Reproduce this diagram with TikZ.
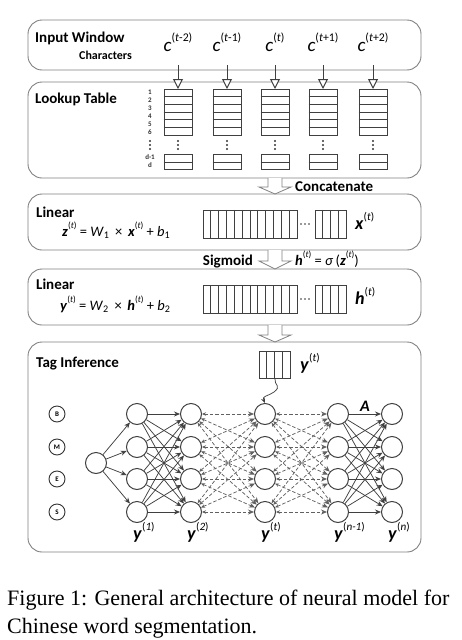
\documentclass[tikz,border=0pt]{standalone}
\usepackage{fontspec}
\setmainfont{Carlito}
\newfontfamily\capfont{Liberation Serif}
\usetikzlibrary{arrows.meta,calc}
\newcommand{\up}[1]{\raisebox{0.5em}{\scalebox{0.62}{#1}}}
\newcommand{\bvy}[2]{\textbf{\textit{#1}}\up{(\textit{#2})}}
\tikzset{
 panel/.style={draw=black!50, line width=0.9pt, rounded corners=14pt},
 title/.style={font=\fontsize{15}{15}\selectfont\bfseries, anchor=base west, inner sep=0pt},
 txt/.style={anchor=base west, inner sep=0pt},
 cell/.style={draw=black!75, line width=1pt, inner sep=0pt},
 cellline/.style={draw=black!75, line width=0.8pt},
 tag/.style={circle, draw=black!75, line width=1pt, minimum size=21pt, inner sep=0pt},
 bmes/.style={circle, draw=black!80, line width=0.9pt, minimum size=16pt, inner sep=0pt, font=\fontsize{7}{7}\selectfont\bfseries},
 edge/.style={draw=black!75, line width=0.75pt, -{Stealth[length=6pt,width=5pt]}},
 dedge/.style={draw=black!62, line width=0.75pt, dash pattern=on 3.5pt off 2pt, {Stealth[length=4pt,width=3.5pt]}-{Stealth[length=6pt,width=5pt]}},
 blockarrow/.style={draw=black!50, fill=white, line width=0.8pt},
 inarrow/.style={draw=black!75, line width=1pt, -{Triangle[length=10pt,width=10pt,fill=white]}},
 dot/.style={circle, fill=black!80, inner sep=0pt, minimum size=2.4pt},
}
\begin{document}
\begin{tikzpicture}[x=1pt,y=-1pt]
\useasboundingbox (0,0) rectangle (462,640);

% panels
\draw[panel] (28,20) rectangle (421,70);
\draw[panel] (28,82) rectangle (421,178);
\draw[panel] (28,194) rectangle (421,250);
\draw[panel] (28,269) rectangle (421,325);
\draw[panel] (28,342) rectangle (421,552);

% block arrows
\draw[blockarrow] (268,178) -- (268,187) -- (259,187) -- (275,194) -- (291,187) -- (282,187) -- (282,178);
\draw[blockarrow] (268,250) -- (268,261) -- (259,261) -- (275,269) -- (291,261) -- (282,261) -- (282,250);
\draw[blockarrow] (268,325) -- (268,335) -- (259,335) -- (275,342) -- (291,335) -- (282,335) -- (282,325);

% box 1
\node[title] (t1) at (35,42) {Input Window};
\node[txt, font=\fontsize{12}{12}\selectfont\bfseries] (chars) at (79,59) {Characters};
\foreach \xx/\lab [count=\k] in {178/{\textit{t}-2}, 227/{\textit{t}-1}, 275/{\textit{t}}, 323/{\textit{t}+1}, 373/{\textit{t}+2}}{
  \node[anchor=base, inner sep=0pt, font=\fontsize{19}{19}\selectfont] (c\k) at (\xx,51) {\textit{c}\up{(\lab)}};
  \coordinate (a\k) at (\xx,65);
  \node[cell, minimum width=28pt, minimum height=46pt, anchor=north] (tab\k) at (\xx,89) {};
  \node[cell, minimum width=28pt, minimum height=15pt, anchor=north] (tb\k) at (\xx,154) {};
  \foreach \i in {1,...,5} \draw[cellline] ($(tab\k.north west)+(0,\i*7.667)$) -- ($(tab\k.north east)+(0,\i*7.667)$);
  \draw[cellline] ($(tb\k.west)$) -- ($(tb\k.east)$);
  \node[dot] at (\xx,141) {}; \node[dot] at (\xx,145) {}; \node[dot] at (\xx,149) {};
}
\foreach \k in {1,...,5} \draw[inarrow] (a\k) -- (tab\k.north);

% box 2
\node[title] (t2) at (35,103) {Lookup Table};
\foreach \n in {1,...,6}
  \node[anchor=center, inner sep=0pt, font=\fontsize{7}{7}\selectfont\bfseries, text=black!80] (r\n) at (150,{92.7+(\n-1)*7.9}) {\n};
\node[dot] at (150,141) {}; \node[dot] at (150,145) {}; \node[dot] at (150,149) {};
\node[anchor=center, inner sep=0pt, font=\fontsize{7}{7}\selectfont\bfseries, text=black!80] (rd1) at (150,157.5) {d-1};
\node[anchor=center, inner sep=0pt, font=\fontsize{7}{7}\selectfont\bfseries, text=black!80] (rd) at (150,165.5) {d};
\node[title] (conc) at (295,191) {Concatenate};

% box 3
\node[title] (t3) at (36,217) {Linear};
\node[txt, font=\fontsize{14.5}{14.5}\selectfont] (f1) at (62,236) {\bvy{z}{t} = \textit{W}\textsubscript{1}\, ×\, \bvy{x}{t} + \textit{b}\textsubscript{1}};
\node[cell, minimum width=94pt, minimum height=28pt, anchor=north west] (xv1) at (203,210) {};
\foreach \i in {1,...,11} \draw[cellline] ($(xv1.north west)+(\i*7.833,0)$) -- ($(xv1.south west)+(\i*7.833,0)$);
\node[cell, minimum width=31pt, minimum height=28pt, anchor=north west] (xv2) at (315,210) {};
\foreach \i in {1,...,3} \draw[cellline] ($(xv2.north west)+(\i*7.75,0)$) -- ($(xv2.south west)+(\i*7.75,0)$);
\node[dot, minimum size=1.9pt] at (301,224) {}; \node[dot, minimum size=1.9pt] at (305,224) {}; \node[dot, minimum size=1.9pt] at (309,224) {};
\node[txt, font=\fontsize{18}{18}\selectfont] (xl) at (355,229) {\bvy{x}{t}};

% sigmoid
\node[anchor=base east, inner sep=0pt, font=\fontsize{15}{15}\selectfont\bfseries] (sig) at (253,265) {Sigmoid};
\node[txt, font=\fontsize{14.5}{14.5}\selectfont] (hs) at (295,265) {\bvy{h}{t} = \textit{σ}\,(\bvy{z}{t})};

% box 4
\node[title] (t4) at (36,289) {Linear};
\node[txt, font=\fontsize{14.5}{14.5}\selectfont] (f2) at (60,310) {\bvy{y}{t} = \textit{W}\textsubscript{2}\, ×\, \bvy{h}{t} + \textit{b}\textsubscript{2}};
\node[cell, minimum width=94pt, minimum height=28pt, anchor=north west] (hv1) at (203,285) {};
\foreach \i in {1,...,11} \draw[cellline] ($(hv1.north west)+(\i*7.833,0)$) -- ($(hv1.south west)+(\i*7.833,0)$);
\node[cell, minimum width=31pt, minimum height=28pt, anchor=north west] (hv2) at (315,285) {};
\foreach \i in {1,...,3} \draw[cellline] ($(hv2.north west)+(\i*7.75,0)$) -- ($(hv2.south west)+(\i*7.75,0)$);
\node[dot, minimum size=1.9pt] at (301,299) {}; \node[dot, minimum size=1.9pt] at (305,299) {}; \node[dot, minimum size=1.9pt] at (309,299) {};
\node[txt, font=\fontsize{18}{18}\selectfont] (hl) at (355,304) {\bvy{h}{t}};

% box 5
\node[title] (t5) at (36,367) {Tag Inference};
\node[cell, minimum width=31pt, minimum height=27pt, anchor=north west] (yvec) at (259,351) {};
\foreach \i in {1,...,3} \draw[cellline] ($(yvec.north west)+(\i*7.75,0)$) -- ($(yvec.south west)+(\i*7.75,0)$);
\node[txt, font=\fontsize{18}{18}\selectfont] (yl) at (300,370) {\bvy{y}{t}};

\foreach \r/\yy/\L in {1/414/B, 2/447/M, 3/479/E, 4/512/S}{
  \node[bmes] (b\r) at (57,\yy) {\L};
  \foreach \c/\xx in {1/137, 2/191, 3/265, 4/338, 5/392}
    \node[tag] (n\c\r) at (\xx,\yy) {};
}
\node[tag] (s) at (96,463) {};

\foreach \r in {1,...,4} \draw[edge] (s) -- (n1\r);
\foreach \i in {1,...,4}{
  \foreach \j in {1,...,4}{
    \draw[edge] (n1\i) -- (n2\j);
    \draw[dedge] (n2\i) -- (n3\j);
    \draw[dedge] (n3\i) -- (n4\j);
    \draw[edge] (n4\i) -- (n5\j);
  }
}
\draw[draw=black!75, line width=0.75pt, -{Stealth[length=5pt,width=4pt]}] (yvec.south) .. controls (274,385) and (282,386) .. (274,392) .. controls (266,397) and (262,396) .. (n31.north);

\node[anchor=center, inner sep=0pt, font=\fontsize{16}{16}\selectfont\bfseries\itshape] (A) at (365,406) {A};

\foreach \c/\xx/\lab in {1/133/1, 2/187/2, 3/261/t, 4/334/n-1, 5/388/n}
  \node[txt, font=\fontsize{18}{18}\selectfont] (yl\c) at (\xx,539) {\textbf{\textit{y}}\up{(\textit{\lab})}};

% caption
\node[txt, font=\capfont\fontsize{22}{28}\selectfont] (cap1) at (7,605) {Figure 1: General architecture of neural model for};
\node[txt, font=\capfont\fontsize{22}{28}\selectfont] (cap2) at (7,633) {Chinese word segmentation.};
\end{tikzpicture}
\end{document}
